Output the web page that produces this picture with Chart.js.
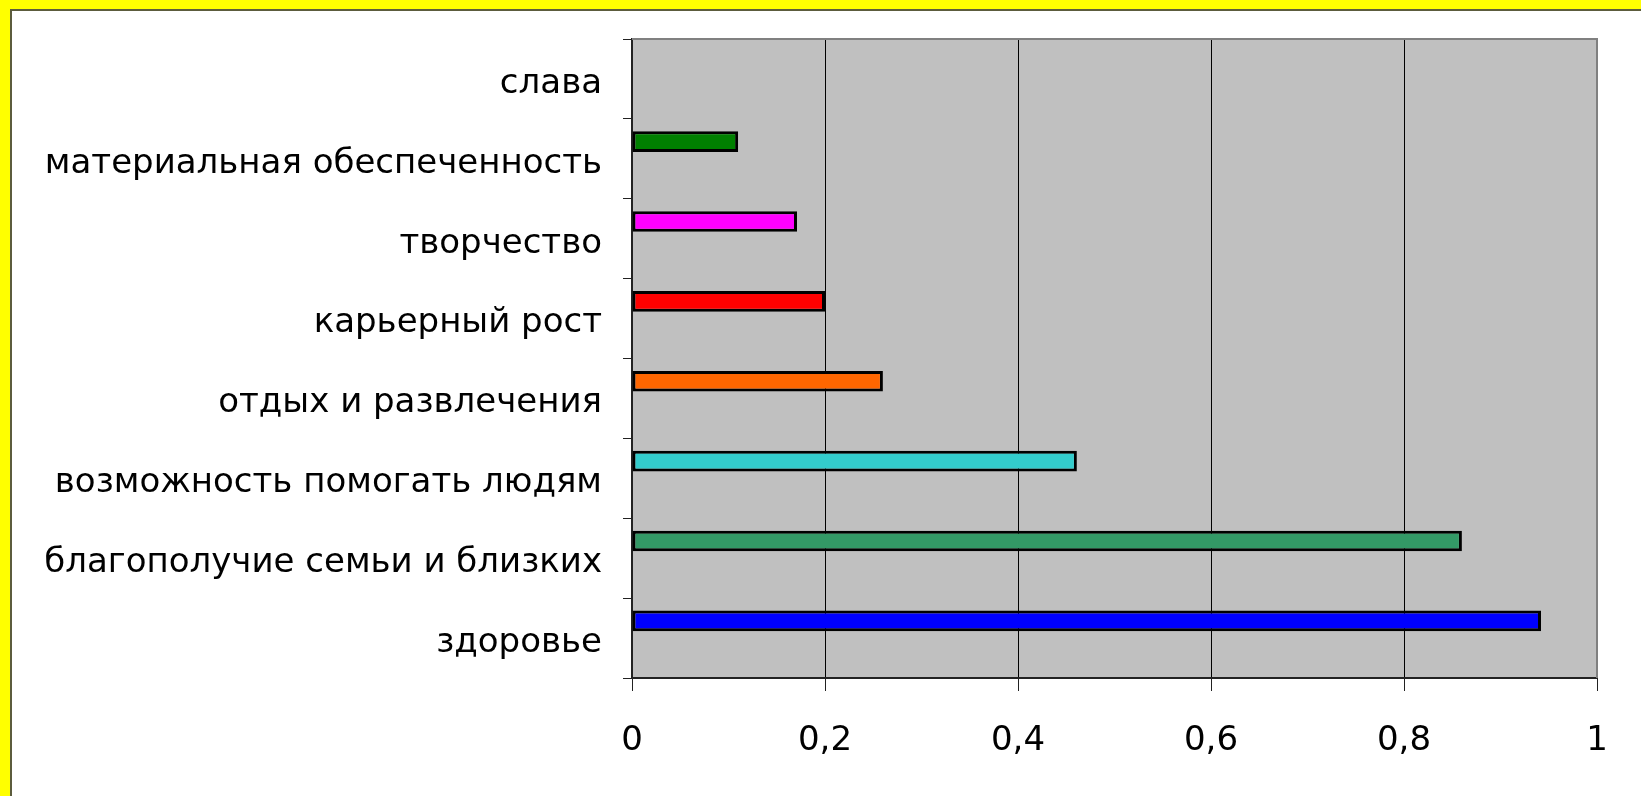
<!DOCTYPE html>
<html>
<head>
<meta charset="utf-8">
<script src="https://cdn.jsdelivr.net/npm/chart.js@4"></script>
<style>
  html, body { margin: 0; padding: 0; background: #ffff00; }
  #frame {
    position: absolute; left: 10px; top: 9px; width: 1631px; height: 787px;
    background: #fff; border-left: 2px solid #5c5c3d; border-top: 2px solid #5c5c3d;
  }
  #wrap { position: absolute; left: 0; top: 0; width: 1629px; height: 785px; }
</style>
</head>
<body>
<div id="frame"><div id="wrap"><canvas id="barChart"></canvas></div></div>
<script>
// categories, top to bottom as in the picture
const categories = [
  'слава',
  'материальная обеспеченность',
  'творчество',
  'карьерный рост',
  'отдых и развлечения',
  'возможность помогать людям',
  'благополучие семьи и близких',
  'здоровье'
];
const values = [0, 0.11, 0.171, 0.2, 0.26, 0.461, 0.86, 0.942];
const barColors = ['#800080', '#008000', '#ff00ff', '#ff0000', '#ff6600', '#33cccc', '#339966', '#0000ff'];
const xTicks = [0, 0.2, 0.4, 0.6, 0.8, 1];

// grey plot area with grey top/right edge
const plotBg = {
  id: 'plotBg',
  beforeDraw(chart) {
    const { ctx, chartArea: a } = chart;
    ctx.save();
    ctx.fillStyle = '#c0c0c0';
    ctx.fillRect(a.left, a.top, a.right - a.left, a.bottom - a.top);
    ctx.restore();
  },
  afterDatasetsDraw(chart) {
    const { ctx, chartArea: a } = chart;
    ctx.save();
    ctx.strokeStyle = '#808080';
    ctx.lineWidth = 2;
    ctx.beginPath();
    ctx.moveTo(a.left, a.top);
    ctx.lineTo(a.right, a.top);
    ctx.lineTo(a.right, a.bottom);
    ctx.stroke();
    ctx.restore();
  }
};

const ctx = document.getElementById('barChart').getContext('2d');
new Chart(ctx, {
  type: 'bar',
  data: {
    labels: categories,
    datasets: [{
      data: values,
      backgroundColor: barColors,
      borderColor: '#000',
      borderWidth: 3,
      borderSkipped: false
    }, {
      // empty second series, keeps bars in the upper half of each slot like the original
      data: categories.map(() => null)
    }]
  },
  options: {
    indexAxis: 'y',
    responsive: true,
    maintainAspectRatio: false,
    animation: false,
    devicePixelRatio: 1,
    categoryPercentage: 0.86,
    barPercentage: 0.6,
    layout: { padding: { top: 28, right: 44, left: 0, bottom: 0 } },
    plugins: {
      legend: { display: false },
      tooltip: { enabled: false }
    },
    scales: {
      x: {
        min: 0,
        max: 1,
        afterBuildTicks(scale) { scale.ticks = xTicks.map(v => ({ value: v })); },
        afterFit(scale) {
          scale.height = 118;
          scale.paddingLeft = 0;
          scale.paddingRight = 0;
        },
        ticks: {
          color: '#000',
          padding: 30,
          maxRotation: 0,
          font: { family: 'DejaVu Sans', size: 34 },
          callback: v => String(v).replace('.', ',')
        },
        grid: { color: '#000', lineWidth: 1, tickLength: 13, tickColor: '#222' },
        border: { color: '#222', width: 2 }
      },
      y: {
        afterFit(scale) {
          scale.width = 620;
          scale.paddingTop = 0;
          scale.paddingBottom = 0;
        },
        ticks: {
          color: '#000',
          padding: 21,
          labelOffset: 5,
          font: { family: 'DejaVu Sans', size: 34 }
        },
        grid: { drawOnChartArea: false, tickLength: 9, color: '#222', offset: true },
        border: { color: '#222', width: 2 }
      }
    }
  },
  plugins: [plotBg]
});
</script>
</body>
</html>
